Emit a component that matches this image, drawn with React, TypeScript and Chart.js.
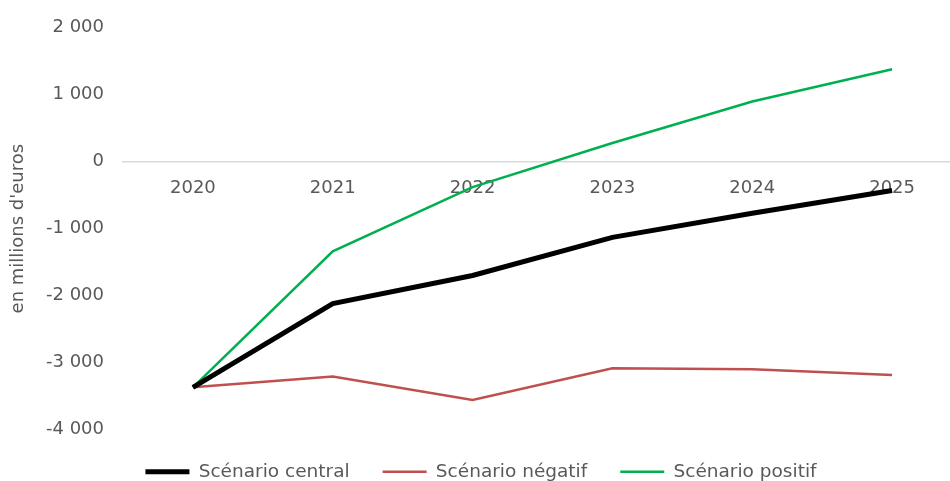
import React, { useEffect, useRef } from "react";
import { Chart, registerables } from "chart.js";

Chart.register(...registerables);

const years = ["2020", "2021", "2022", "2023", "2024", "2025"];
const central = [-3370, -2120, -1700, -1130, -770, -430];
const negatif = [-3370, -3210, -3560, -3085, -3100, -3185];
const positif = [-3370, -1340, -380, 280, 900, 1380];
const yTicks = [-4000, -3000, -2000, -1000, 0, 1000, 2000];

const FONT = "'DejaVu Sans', sans-serif";
const GREY = "#595959";

function fmt(v: number): string {
  const neg = v < 0;
  const a = Math.abs(v);
  const s = a >= 1000 ? Math.floor(a / 1000) + " " + String(a % 1000).padStart(3, "0") : String(a);
  return (neg ? "-" : "") + s;
}

export default function App() {
  const ref = useRef<HTMLCanvasElement | null>(null);

  useEffect(() => {
    document.documentElement.style.overflow = "hidden";
    document.body.style.overflow = "hidden";
    const canvas = ref.current;
    if (!canvas) return;
    const chart = new Chart(canvas, {
      type: "line",
      data: {
        labels: years,
        datasets: [
          {
            label: "Scénario central",
            data: central,
            borderColor: "#000000",
            backgroundColor: "#000000",
            borderWidth: 5,
            pointRadius: 0,
            tension: 0,
          },
          {
            label: "Scénario négatif",
            data: negatif,
            borderColor: "#C0504D",
            backgroundColor: "#C0504D",
            borderWidth: 2.5,
            pointRadius: 0,
            tension: 0,
          },
          {
            label: "Scénario positif",
            data: positif,
            borderColor: "#00B050",
            backgroundColor: "#00B050",
            borderWidth: 2.5,
            pointRadius: 0,
            tension: 0,
          },
        ],
      },
      options: {
        responsive: false,
        animation: false,
        devicePixelRatio: 1,
        layout: { padding: { top: 23, left: 0, right: 0, bottom: 0 } },
        plugins: {
          tooltip: { enabled: false },
          legend: {
            position: "bottom",
            labels: {
              usePointStyle: true,
              pointStyle: "line",
              pointStyleWidth: 44,
              padding: 33,
              color: GREY,
              font: { family: FONT, size: 18.5 },
            },
          },
        },
        scales: {
          x: {
            type: "category",
            position: { y: 0 },
            offset: true,
            grid: { display: false, drawTicks: false },
            border: { display: true, color: "#d9d9d9", width: 1.5 },
            ticks: {
              color: GREY,
              padding: 16,
              font: { family: FONT, size: 18 },
              maxRotation: 0,
            },
          },
          y: {
            type: "linear",
            min: -4000,
            max: 2000,
            afterBuildTicks: (scale: any) => {
              scale.ticks = yTicks.map((v) => ({ value: v }));
            },
            afterFit: (scale: any) => {
              scale.width = 123;
            },
            grid: { display: false, drawTicks: false },
            border: { display: false },
            title: {
              display: true,
              text: "en millions d'euros",
              color: GREY,
              font: { family: FONT, size: 18 },
              padding: { top: 8, bottom: 0 },
            },
            ticks: {
              color: GREY,
              padding: 19,
              font: { family: FONT, size: 18 },
              callback: (v: any) => fmt(Number(v)),
            },
          },
        },
      },
    });
    return () => chart.destroy();
  }, []);

  return (
    <div style={{ position: "absolute", left: 0, top: -2, width: 962, height: 493 }}>
      <canvas ref={ref} width={962} height={493} />
    </div>
  );
}
